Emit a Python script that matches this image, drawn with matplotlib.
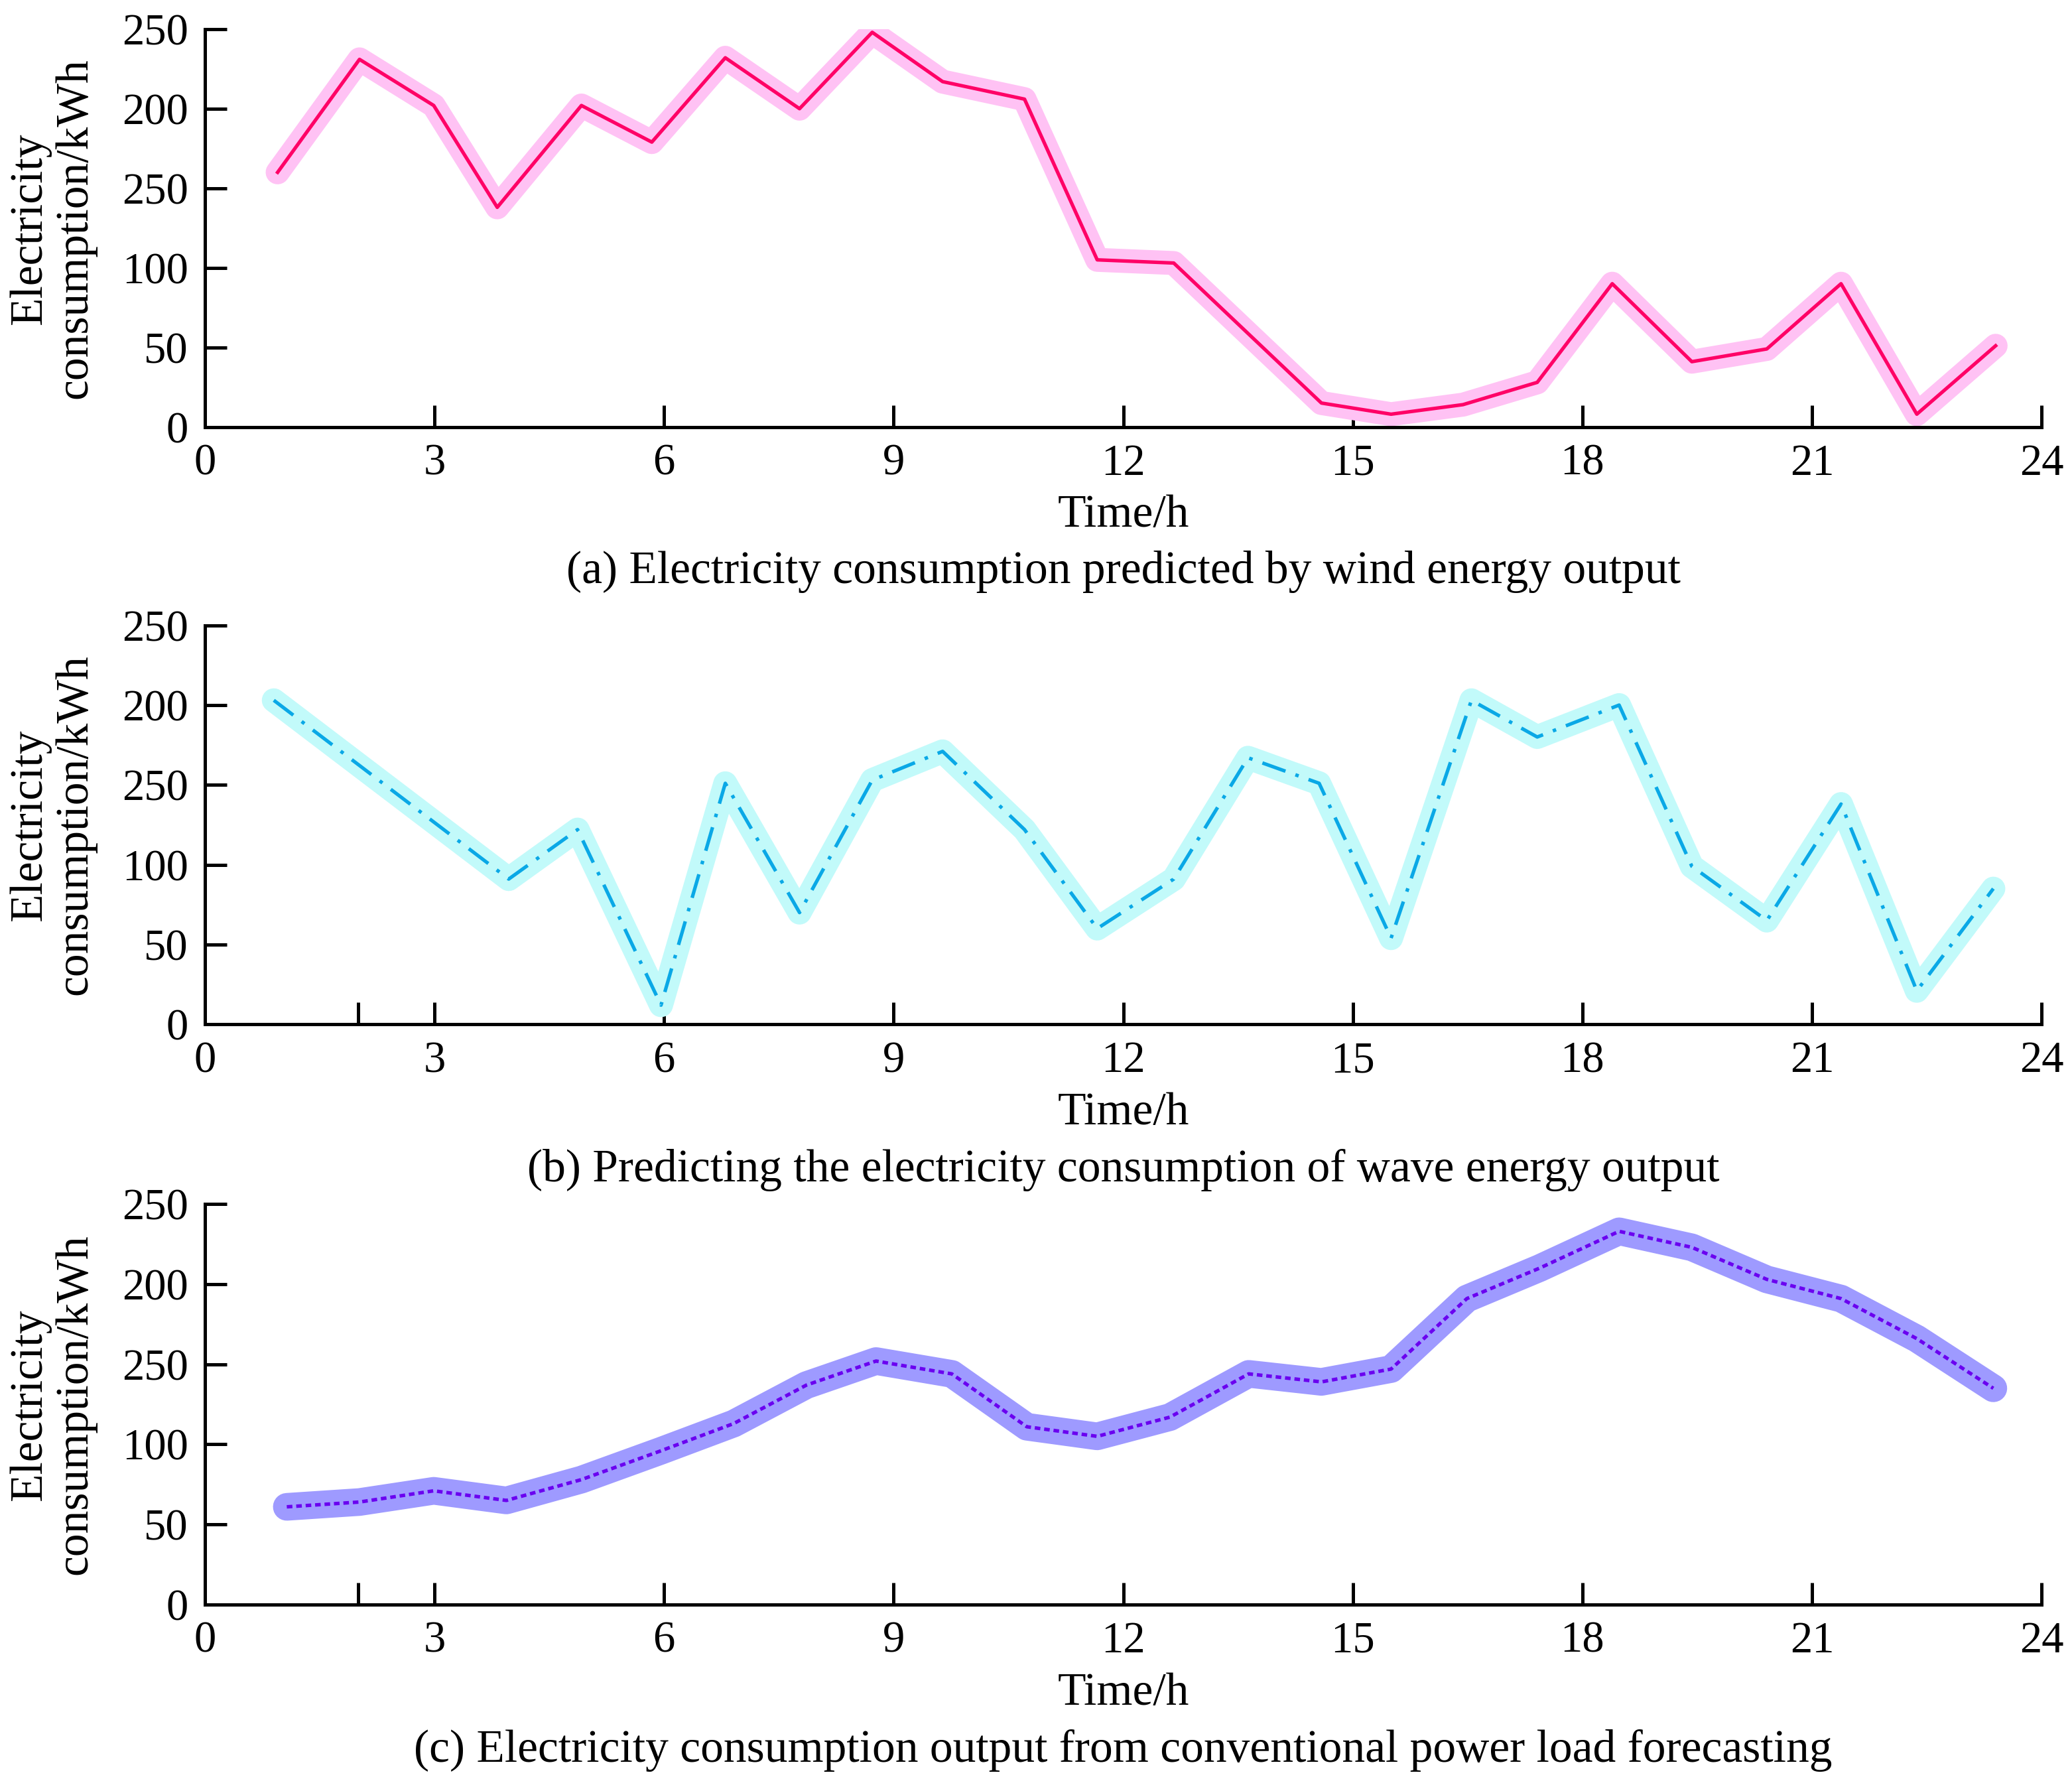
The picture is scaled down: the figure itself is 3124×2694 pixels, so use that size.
import numpy as np
import matplotlib
matplotlib.use("Agg")
import matplotlib.pyplot as plt

plt.rcParams['font.family'] = ['Liberation Serif', 'DejaVu Serif']

# panel (a) wind energy
wind_x = [0.95, 2.02, 2.99, 3.82, 4.92, 5.84, 6.80, 7.77, 8.72, 9.64, 10.71, 11.66,
          12.66, 14.59, 15.50, 16.44, 17.41, 18.39, 19.43, 20.41, 21.38, 22.37, 23.40]
wind_y = [160, 231, 202, 138, 202, 179, 232, 200, 248, 217, 206, 105,
          103, 15, 8, 14, 28, 90, 41, 49, 90, 8, 51]

# panel (b) wave energy
wave_x = [0.90, 3.97, 4.87, 5.96, 6.80, 7.77, 8.72, 9.64, 10.71, 11.66, 12.66,
          13.63, 14.56, 15.50, 16.55, 17.41, 18.48, 19.43, 20.41, 21.38, 22.37, 23.37]
wave_y = [203, 91, 122, 12, 151, 70, 153, 171, 122, 60, 91,
          167, 151, 54, 203, 180, 200, 99, 65, 138, 21, 85]

# panel (c) conventional load
conv_x = [1.07, 2.02, 2.99, 3.94, 4.92, 5.96, 6.91, 7.86, 8.77, 9.76, 10.74, 11.66,
          12.61, 13.64, 14.59, 15.50, 16.49, 17.44, 18.48, 19.43, 20.41, 21.38, 22.37, 23.37]
conv_y = [61, 64, 71, 65, 78, 96, 113, 137, 152, 144, 111, 105,
          117, 144, 139, 147, 191, 210, 233, 223, 203, 191, 166, 135]

y_ticks = [0, 50, 100, 150, 200, 250]
y_tick_labels = ['0', '50', '100', '250', '200', '250']
x_ticks = [0, 3, 6, 9, 12, 15, 18, 21, 24]

captions = ['(a) Electricity consumption predicted by wind energy output',
            '(b) Predicting the electricity consumption of wave energy output',
            '(c) Electricity consumption output from conventional power load forecasting']

fig = plt.figure(figsize=(31.24, 26.94), dpi=100)

# [left, bottom, width, height] in figure fraction
boxes = [[0.0989, 0.7611, 0.8864, 0.2226],
         [0.0989, 0.4268, 0.8864, 0.2233],
         [0.0989, 0.1021, 0.8864, 0.2241]]

# x, y, glow colour, glow width, line colour, line style, extra tick at 2
series = [
    (wind_x, wind_y, '#FFC2F4', 26, '#FF0066', '-', False),
    (wave_x, wave_y, '#C2FAFA', 26, '#0AA8E6', (0, (7, 3, 1, 3)), True),
    (conv_x, conv_y, '#9E9AFF', 30, '#6A00F0', (0, (1.6, 1.1)), True),
]

FS = 50
TICK_FS = 48
for box, (xs, ys, glow, gw, col, ls, extra_tick), cap in zip(boxes, series, captions):
    ax = fig.add_axes(box)
    ax.plot(xs, ys, color=glow, lw=gw, solid_capstyle='round', solid_joinstyle='round', zorder=2)
    ax.plot(xs, ys, color=col, lw=3.8, linestyle=ls, zorder=3)
    ax.set_xlim(0, 24)
    ax.set_ylim(0, 250)
    ax.set_yticks(y_ticks)
    ax.set_yticklabels(y_tick_labels)
    ax.set_xticks(x_ticks)
    if extra_tick:
        ax.set_xticks([2], minor=True)
        ax.tick_params(axis='x', which='minor', direction='in', length=24, width=3.6)
    for s in ['top', 'right']:
        ax.spines[s].set_visible(False)
    for s in ['left', 'bottom']:
        ax.spines[s].set_linewidth(3.6)
    ax.tick_params(axis='both', which='major', direction='in', length=24, width=3.6,
                   labelsize=TICK_FS, pad=18)
    ax.set_ylabel('Electricity\nconsumption/kWh', fontsize=FS, linespacing=1.1, va='center')
    ax.yaxis.set_label_coords(-0.083, 0.5)
    ax.text(0.5, -0.223, 'Time/h', transform=ax.transAxes, ha='center', va='center', fontsize=FS)
    ax.text(0.5, -0.365, cap, transform=ax.transAxes, ha='center', va='center', fontsize=FS)

fig.savefig('out.png', dpi=100, facecolor='white')
